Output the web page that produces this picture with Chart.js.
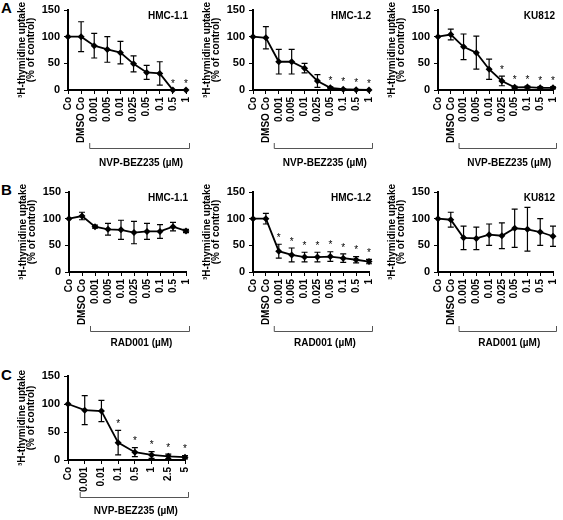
<!DOCTYPE html>
<html>
<head>
<meta charset="utf-8">
<script src="https://cdn.jsdelivr.net/npm/chart.js@4/dist/chart.umd.min.js"></script>
<style>
  body { margin: 0; background: #fff; }
  #wrap { position: relative; width: 563px; height: 520px; overflow: hidden; }
  canvas { position: absolute; }
  .letter { position: absolute; font: bold 15px "Liberation Sans", Arial, sans-serif; color: #000; }
</style>
</head>
<body>
<div id="wrap">
  <div class="letter" style="left:1px;top:-1px">A</div>
  <div class="letter" style="left:1px;top:181px">B</div>
  <div class="letter" style="left:1px;top:366px">C</div>
  <canvas id="a1"></canvas>
  <canvas id="a2"></canvas>
  <canvas id="a3"></canvas>
  <canvas id="b1"></canvas>
  <canvas id="b2"></canvas>
  <canvas id="b3"></canvas>
  <canvas id="c1"></canvas>
</div>
<script>
// categories
const catsAB = ['Co', 'DMSO Co', '0.001', '0.005', '0.01', '0.025', '0.05', '0.1', '0.5', '1'];
const catsC = ['Co', '0.001', '0.01', '0.1', '0.5', '1', '2.5', '5'];
const yTicks = [0, 50, 100, 150];

// A: NVP-BEZ235
const a1Mean = [100, 100, 83, 76, 70, 49, 33, 31, 0, 0];
const a1Err  = [0, 28, 23, 24, 21, 15, 13, 22, 0, 0];
const a1Star = [0, 0, 0, 0, 0, 0, 0, 0, 1, 1];

const a2Mean = [100, 98, 53, 53, 41, 17, 4, 1.5, 0.5, 0];
const a2Err  = [0, 21, 23, 23, 9, 12, 2, 1, 0, 0];
const a2Star = [0, 0, 0, 0, 0, 0, 1, 1, 1, 1];

const a3Mean = [100, 104, 81, 70, 39, 17, 5, 5.5, 4, 4];
const a3Err  = [0, 10, 24, 31, 19, 9, 2, 2, 2, 2];
const a3Star = [0, 0, 0, 0, 0, 1, 1, 1, 1, 1];

// B: RAD001
const b1Mean = [100, 105, 85, 80, 79, 74, 76, 76, 85, 77];
const b1Err  = [0, 7, 3, 11, 18, 21, 15, 13, 8, 3];
const b1Star = [0, 0, 0, 0, 0, 0, 0, 0, 0, 0];

const b2Mean = [100, 100, 39, 32, 28, 28, 29, 26, 23, 19.5];
const b2Err  = [0, 10, 13, 13, 9, 9, 9, 8, 6, 4];
const b2Star = [0, 0, 1, 1, 1, 1, 1, 1, 1, 1];

const b3Mean = [100, 98, 64, 63, 70, 68, 82, 80, 75, 67];
const b3Err  = [0, 14, 22, 21, 20, 24, 36, 41, 25, 19];
const b3Star = [0, 0, 0, 0, 0, 0, 0, 0, 0, 0];

// C: NVP-BEZ235, wider range
const cMean = [100, 89, 87.5, 31, 14, 9, 6.5, 5];
const cErr  = [0, 26, 19, 22, 8, 6, 4, 3];
const cStar = [0, 0, 0, 1, 1, 1, 1, 1];

const FONT = '"Liberation Sans", Arial, sans-serif';

// error bars, stars, cell line name, drug bracket
const panelDeco = {
    id: 'panelDeco',
    afterDatasetsDraw(chart, args, o) {
        const { ctx, chartArea: ca, scales: { x, y } } = chart;
        const mean = chart.data.datasets[0].data;
        ctx.save();
        ctx.strokeStyle = '#000';
        ctx.fillStyle = '#000';
        ctx.lineWidth = 1.2;
        mean.forEach((m, i) => {
            const px = x.getPixelForValue(i);
            const e = o.err[i];
            if (e > 0) {
                const top = y.getPixelForValue(m + e);
                const bot = y.getPixelForValue(Math.max(m - e, 0));
                ctx.beginPath();
                ctx.moveTo(px, top); ctx.lineTo(px, bot);
                ctx.moveTo(px - 3, top); ctx.lineTo(px + 3, top);
                ctx.moveTo(px - 3, bot); ctx.lineTo(px + 3, bot);
                ctx.stroke();
            }
            if (o.star[i]) {
                ctx.font = '10px ' + FONT;
                ctx.textAlign = 'center';
                ctx.textBaseline = 'middle';
                ctx.fillText('*', px, y.getPixelForValue(m + e) - 6);
            }
        });
        // cell line
        ctx.font = 'bold 10px ' + FONT;
        ctx.textAlign = 'right';
        ctx.textBaseline = 'middle';
        ctx.fillText(o.cell, ca.right + 2, ca.top + 6);
        // bracket
        const x0 = x.getPixelForValue(o.from) - 5;
        const x1 = ca.right + 3;
        const by = ca.bottom + o.bracketOff;
        ctx.strokeStyle = '#555';
        ctx.lineWidth = 1;
        ctx.beginPath();
        ctx.moveTo(x0 + 0.5, by - 5); ctx.lineTo(x0 + 0.5, by + 0.5);
        ctx.lineTo(x1 + 0.5, by + 0.5); ctx.lineTo(x1 + 0.5, by - 5);
        ctx.stroke();
        ctx.textAlign = 'center';
        ctx.fillText(o.drug, (x0 + x1) / 2 + 2, ca.bottom + o.labelOff);
        ctx.restore();
    }
};

function makePanel(id, pos, labels, mean, err, star, cell, drug, from, xHeight, bracketOff, labelOff) {
    const cv = document.getElementById(id);
    cv.style.left = pos[0] + 'px';
    cv.style.top = pos[1] + 'px';
    cv.width = pos[2];
    cv.height = pos[3];
    new Chart(cv, {
        type: 'line',
        data: {
            labels: labels,
            datasets: [{
                data: mean,
                borderColor: '#000',
                backgroundColor: '#000',
                borderWidth: 1.8,
                pointStyle: 'rectRot',
                pointRadius: 3.5,
                pointBackgroundColor: '#000',
                pointBorderWidth: 0,
                tension: 0,
                clip: false
            }]
        },
        options: {
            responsive: false,
            animation: false,
            events: [],
            layout: { padding: { top: pos[4], right: pos[5], left: 0, bottom: 0 } },
            plugins: {
                legend: { display: false },
                tooltip: { enabled: false },
                panelDeco: { err, star, cell, drug, from, bracketOff, labelOff }
            },
            scales: {
                x: {
                    offset: false,
                    border: { color: '#000', width: 2 },
                    grid: { drawOnChartArea: false, drawTicks: true, tickLength: 4, color: '#000', lineWidth: 1 },
                    ticks: {
                        color: '#000',
                        font: { family: FONT, size: 10, weight: 'bold' },
                        minRotation: 90,
                        maxRotation: 90,
                        autoSkip: false,
                        padding: 3
                    },
                    afterFit: (s) => { s.height = xHeight; s.paddingLeft = 0; s.paddingRight = 0; }
                },
                y: {
                    min: 0,
                    max: 150,
                    afterBuildTicks: (s) => { s.ticks = yTicks.map(v => ({ value: v })); },
                    border: { color: '#000', width: 2 },
                    grid: { drawOnChartArea: false, drawTicks: true, tickLength: 4, color: '#000', lineWidth: 1 },
                    ticks: {
                        color: '#000',
                        font: { family: FONT, size: 11, weight: 'bold' },
                        padding: 4
                    },
                    title: {
                        display: true,
                        text: ['³H-thymidine uptake', '(% of control)'],
                        color: '#000',
                        font: { family: FONT, size: 10, weight: 'bold', lineHeight: 0.95 },
                        padding: { top: 17, bottom: 0 }
                    },
                    afterFit: (s) => { s.width = 68; s.paddingTop = 0; s.paddingBottom = 0; }
                }
            }
        },
        plugins: [panelDeco]
    });
}

// pos: left, top, width, height, padTop, padRight
makePanel('a1', [0, 0, 190, 170, 10, 4], catsAB, a1Mean, a1Err, a1Star, 'HMC-1.1', 'NVP-BEZ235 (µM)', 2, 80, 58, 73);
makePanel('a2', [185, 0, 188, 170, 10, 3], catsAB, a2Mean, a2Err, a2Star, 'HMC-1.2', 'NVP-BEZ235 (µM)', 2, 80, 58, 73);
makePanel('a3', [370, 0, 193, 170, 10, 10], catsAB, a3Mean, a3Err, a3Star, 'KU812', 'NVP-BEZ235 (µM)', 2, 80, 58, 73);
makePanel('b1', [1, 182, 190, 170, 10, 5], catsAB, b1Mean, b1Err, b1Star, 'HMC-1.1', 'RAD001 (µM)', 2, 80, 59, 71);
makePanel('b2', [185, 182, 188, 170, 10, 3], catsAB, b2Mean, b2Err, b2Star, 'HMC-1.2', 'RAD001 (µM)', 2, 80, 59, 71);
makePanel('b3', [370, 182, 193, 170, 10, 10], catsAB, b3Mean, b3Err, b3Star, 'KU812', 'RAD001 (µM)', 2, 80, 59, 71);
makePanel('c1', [0, 366, 200, 154, 10, 15], catsC, cMean, cErr, cStar, '', 'NVP-BEZ235 (µM)', 1, 60, 37, 51);
</script>
</body>
</html>
